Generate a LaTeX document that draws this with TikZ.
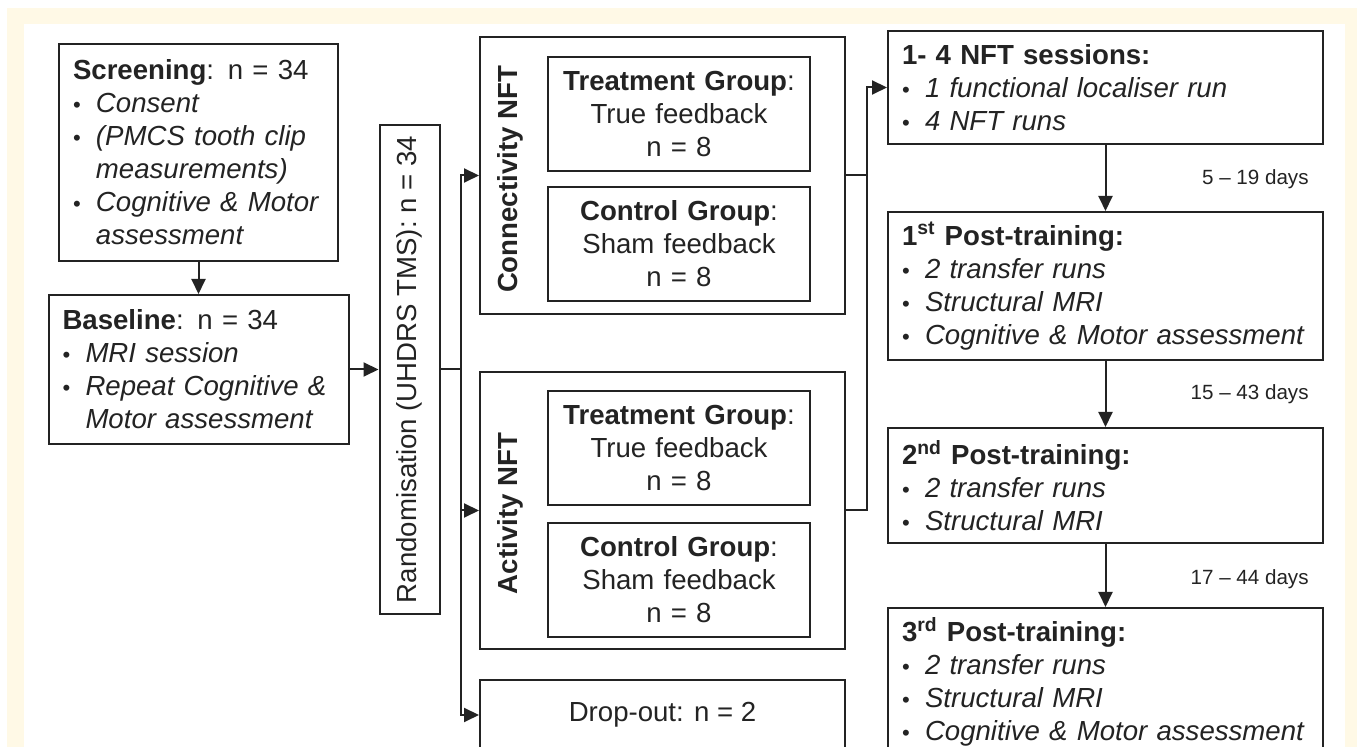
\documentclass[tikz,border=0pt]{standalone}
\usepackage{fontspec}
\setmainfont{Liberation Sans}
\usetikzlibrary{positioning, arrows.meta}

\definecolor{creamback}{RGB}{255,249,230}
\definecolor{inkgray}{RGB}{35,35,35}
\newcommand{\myitem}[1]{\mbox{\makebox[11.5pt][l]{\scalebox{0.8}{\textbullet}}\textit{#1}}}
\newcommand{\mycont}[1]{\mbox{\hspace*{11.5pt}\textit{#1}}}

\begin{document}
\begin{tikzpicture}[
  x=0.5pt, y=-0.5pt,
  font=\fontsize{13.8}{16.5}\selectfont,
  mybox/.style 2 args={
     draw=inkgray,
     line width=1pt,
     text=inkgray,
     inner xsep=7pt,
     inner ysep=0pt,
     align=left,
     text width=#1,
     minimum height=#2},
  mygroup/.style={mybox={117pt}{57pt}, align=center},
  myframe/.style={
     draw=inkgray,
     line width=1pt,
     text=inkgray,
     inner sep=0pt,
     minimum width=182.5pt,
     minimum height=138.5pt},
  myvbox/.style={myframe, minimum width=30pt, minimum height=244.5pt},
  mylabel/.style={text=inkgray, inner sep=0pt},
  mydays/.style={text=inkgray, font=\fontsize{10.3}{12}\selectfont, anchor=east, inner sep=0pt},
  myline/.style={draw=inkgray, line width=1pt},
  myarrow/.style={myline, -{Triangle[length=7.5pt,width=7pt]}},
  node distance=16pt
  ]
  \useasboundingbox (0,0) rectangle (1357,747);
  \clip (0,0) rectangle (1357,747);
  \fill[creamback] (7,8) rectangle (1370,760);
  \fill[white] (24,24) rectangle (1345,760);

  % screening and baseline
  \node[mybox={125.5pt}{108.5pt}, anchor=north west] (scr) at (58,43)
    {\textbf{Screening}: n = 34\\ \myitem{Consent}\\ \myitem{(PMCS tooth clip}\\
     \mycont{measurements)}\\ \myitem{Cognitive \& Motor}\\ \mycont{assessment}};
  \node[mybox={136pt}{74.5pt}, below=of scr] (base)
    {\textbf{Baseline}: n = 34\\ \myitem{MRI session}\\ \myitem{Repeat Cognitive \&}\\
     \mycont{Motor assessment}};
  \node[myvbox, right=14.5pt of base] (rand) {\rotatebox{90}{Randomisation (UHDRS TMS): n = 34}};

  % connectivity arm
  \node[myframe, anchor=north west] (conn) at (479,36) {};
  \node[mygroup, anchor=north west] (connT) at ([xshift=34pt,yshift=-10pt]conn.north west)
    {\textbf{Treatment Group}:\\ True feedback\\ n = 8};
  \node[mygroup, below=7pt of connT] (connC) {\textbf{Control Group}:\\ Sham feedback\\ n = 8};
  \node[mylabel] (connlab) at ([xshift=15.5pt,yshift=-2pt]conn.west) {\rotatebox{90}{\textbf{Connectivity NFT}}};

  % activity arm
  \node[myframe, below=28pt of conn] (act) {};
  \node[mygroup, anchor=north west] (actT) at ([xshift=34pt,yshift=-9.5pt]act.north west)
    {\textbf{Treatment Group}:\\ True feedback\\ n = 8};
  \node[mygroup, below=8pt of actT] (actC) {\textbf{Control Group}:\\ Sham feedback\\ n = 8};
  \node[mylabel] (actlab) at ([xshift=15.5pt,yshift=-1.5pt]act.west) {\rotatebox{90}{\textbf{Activity NFT}}};

  \node[myframe, minimum height=35pt, below=14.5pt of act] (drop) {Drop-out: n = 2};

  % sessions
  \node[mybox={203.5pt}{56.5pt}, anchor=north west] (nft) at (887,30)
    {\textbf{1- 4 NFT sessions:}\\ \myitem{1 functional localiser run}\\ \myitem{4 NFT runs}};
  \node[mybox={203.5pt}{74pt}, below=33pt of nft] (post1)
    {\textbf{1\textsuperscript{st} Post-training:}\\ \myitem{2 transfer runs}\\ \myitem{Structural MRI}\\
     \myitem{Cognitive \& Motor assessment}};
  \node[mybox={203.5pt}{57.5pt}, below=33pt of post1] (post2)
    {\textbf{2\textsuperscript{nd} Post-training:}\\ \myitem{2 transfer runs}\\ \myitem{Structural MRI}};
  \node[mybox={203.5pt}{74pt}, below=31.5pt of post2] (post3)
    {\textbf{3\textsuperscript{rd} Post-training:}\\ \myitem{2 transfer runs}\\ \myitem{Structural MRI}\\
     \myitem{Cognitive \& Motor assessment}};

  \node[mydays] (gap1) at ([xshift=-7.5pt,yshift=16pt]post1.north east) {5 -- 19 days};
  \node[mydays] (gap2) at ([xshift=-7.5pt,yshift=16.5pt]post2.north east) {15 -- 43 days};
  \node[mydays] (gap3) at ([xshift=-7.5pt,yshift=14pt]post3.north east) {17 -- 44 days};

  % edges
  \draw[myarrow] (scr) -- (base);
  \draw[myarrow] (base) -- (rand);
  \coordinate[right=10pt of rand.east] (split);
  \draw[myline] (rand.east) -- (split);
  \draw[myarrow] (split) |- (conn.west);
  \draw[myarrow] (split) |- (act.west);
  \draw[myarrow] (split) |- (drop.west);

  \coordinate[right=10.5pt of conn.east] (join);
  \draw[myline] (act.east) -| (join);
  \draw[myarrow] (conn.east) -- (join) |- (nft.west);

  \draw[myarrow] (nft) -- (post1);
  \draw[myarrow] (post1) -- (post2);
  \draw[myarrow] (post2) -- (post3);

\end{tikzpicture}
\end{document}
